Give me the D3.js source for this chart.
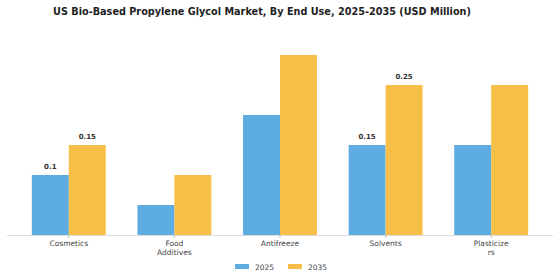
<!DOCTYPE html>
<html>
<head>
<meta charset="utf-8">
<script src="https://cdn.jsdelivr.net/npm/d3@7"></script>
<style>
  body { margin: 0; background: #fff; }
  svg { display: block; font-family: "DejaVu Sans", sans-serif; }
</style>
</head>
<body>
<div class="chart"></div>
<script>
// categories and series values
const categories = ["Cosmetics", "Food\nAdditives", "Antifreeze", "Solvents", "Plasticize\nrs"];
const years = ["2025", "2035"];
const values2025 = [0.1, 0.05, 0.2, 0.15, 0.15];
const values2035 = [0.15, 0.1, 0.3, 0.25, 0.25];
// which bars carry a value label
const labelled2025 = [true, false, false, true, false];
const labelled2035 = [true, false, false, true, false];

const W = 560, H = 280;
const colors = {"2025": "#5DADE2", "2035": "#F7BF47"};

const rows = categories.map((c, i) => ({
  cat: c,
  vals: [
    {year: "2025", v: values2025[i], lab: labelled2025[i]},
    {year: "2035", v: values2035[i], lab: labelled2035[i]}
  ]
}));

const svg = d3.select(".chart").append("svg")
  .attr("width", W).attr("height", H);

svg.append("text")
  .attr("x", 262).attr("y", 14.5)
  .attr("text-anchor", "middle")
  .attr("font-size", 9.7).attr("font-weight", "bold")
  .attr("fill", "#222")
  .text("US Bio-Based Propylene Glycol Market, By End Use, 2025-2035 (USD Million)");

const baseY = 235;
const x = d3.scaleBand().domain(categories).range([16, 544]).paddingInner(0.3).paddingOuter(0.15);
const xs = d3.scaleBand().domain(years).range([0, x.bandwidth()]);
const y = d3.scaleLinear().domain([0, 0.3]).range([baseY, 55]);

// axis line
svg.append("line")
  .attr("x1", 7).attr("x2", 553).attr("y1", baseY + 0.5).attr("y2", baseY + 0.5)
  .attr("stroke", "#ddd").attr("stroke-width", 1);

const g = svg.selectAll("g.grp").data(rows).join("g")
  .attr("class", "grp")
  .attr("transform", d => `translate(${x(d.cat)},0)`);

g.selectAll("rect").data(d => d.vals).join("rect")
  .attr("x", d => xs(d.year))
  .attr("y", d => y(d.v))
  .attr("width", xs.bandwidth())
  .attr("height", d => baseY - y(d.v))
  .attr("fill", d => colors[d.year]);

g.selectAll("text.val").data(d => d.vals.filter(v => v.lab)).join("text")
  .attr("class", "val")
  .attr("x", d => xs(d.year) + xs.bandwidth() / 2)
  .attr("y", d => y(d.v) - 6)
  .attr("text-anchor", "middle")
  .attr("font-size", 7).attr("font-weight", "bold")
  .attr("fill", "#333")
  .text(d => d.v);

// tick marks
g.append("line")
  .attr("x1", x.bandwidth() / 2).attr("x2", x.bandwidth() / 2)
  .attr("y1", baseY).attr("y2", baseY + 3)
  .attr("stroke", "#bbb");

// category labels
g.append("text")
  .attr("text-anchor", "middle")
  .attr("font-size", 7.5).attr("fill", "#444")
  .selectAll("tspan").data(d => d.cat.split("\n")).join("tspan")
  .attr("x", x.bandwidth() / 2)
  .attr("y", (d, i) => 246 + i * 9)
  .text(d => d);

// legend
const leg = svg.append("g");
const legX = [235, 288];
years.forEach((yr, i) => {
  leg.append("rect")
    .attr("x", legX[i]).attr("y", 264)
    .attr("width", 14).attr("height", 5)
    .attr("fill", colors[yr]);
  leg.append("text")
    .attr("x", legX[i] + 20).attr("y", 269.5)
    .attr("font-size", 7.5).attr("fill", "#444")
    .text(yr);
});
</script>
</body>
</html>
